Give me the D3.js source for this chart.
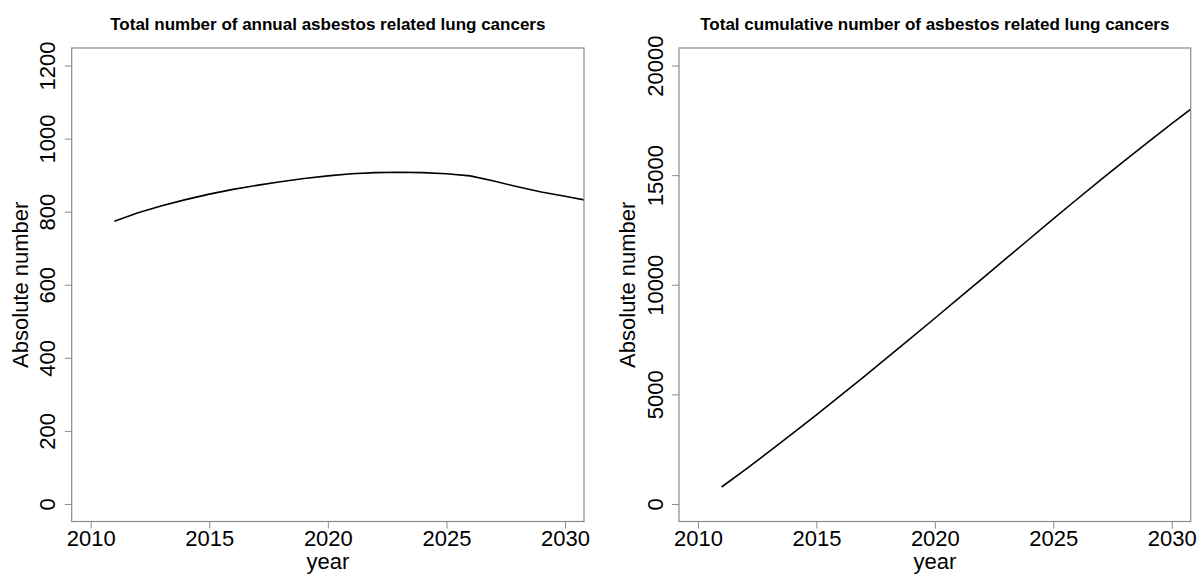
<!DOCTYPE html>
<html>
<head>
<meta charset="utf-8">
<script src="https://cdn.jsdelivr.net/npm/d3@7"></script>
<style>
  html, body { margin: 0; padding: 0; background: #fff; }
  svg { display: block; }
  text { font-family: "Liberation Sans", Arial, Helvetica, sans-serif; fill: #000; }
</style>
</head>
<body>
<svg id="chart" width="1198" height="574"></svg>
<script>
// Projection years and values
const years = [2011, 2012, 2013, 2014, 2015, 2016, 2017, 2018, 2019, 2020,
               2021, 2022, 2023, 2024, 2025, 2026, 2027, 2028, 2029, 2030, 2031];

// Annual asbestos related lung cancers
const annualCases = [774, 797, 816, 833, 848, 861, 872, 882, 891, 898,
                     904, 907, 908, 907, 904, 898, 884, 868, 854, 842, 830];

// Cumulative asbestos related lung cancers
const cumulativeCases = [774, 1571, 2387, 3220, 4068, 4929, 5801, 6683, 7574, 8472,
                         9376, 10283, 11191, 12098, 13002, 13900, 14784, 15652, 16506, 17348, 18178];

const xTicks = [2010, 2015, 2020, 2025, 2030];
const annualTicks = [0, 200, 400, 600, 800, 1000, 1200];
const cumulativeTicks = [0, 5000, 10000, 15000, 20000];

const titles = [
  "Total number of annual asbestos related lung cancers",
  "Total cumulative number of asbestos related lung cancers"
];

const svg = d3.select("#chart");
const boxColor = "#8a8a8a";

const panels = [
  { left: 71.7, right: 584, values: annualCases, yTicks: annualTicks, yDomain: [-48, 1248], title: titles[0] },
  { left: 679, right: 1190.7, values: cumulativeCases, yTicks: cumulativeTicks, yDomain: [-800, 20800], title: titles[1] }
];
const plotTop = 48, plotBottom = 521.5;

panels.forEach((p, i) => {
  const x = d3.scaleLinear().domain([2009.2, 2030.8]).range([p.left, p.right]);
  const y = d3.scaleLinear().domain(p.yDomain).range([plotBottom, plotTop]);

  const g = svg.append("g");

  // clip the series to the plotting region
  const clipId = "clip" + i;
  g.append("clipPath").attr("id", clipId)
    .append("rect")
    .attr("x", p.left).attr("y", plotTop)
    .attr("width", p.right - p.left).attr("height", plotBottom - plotTop);

  // x axis
  const xAxis = g.append("g")
    .attr("transform", `translate(0,${plotBottom})`)
    .call(d3.axisBottom(x).tickValues(xTicks).tickFormat(d3.format("d")).tickSize(7));
  xAxis.select(".domain").remove();
  xAxis.selectAll(".tick line").attr("stroke", boxColor);
  xAxis.selectAll(".tick text")
    .attr("y", 24.5).attr("dy", 0)
    .style("font-size", "22px")
    .style("font-family", "'Liberation Sans', Arial, sans-serif")
    .attr("fill", "#000");

  // y axis with labels running parallel to the axis
  const yAxis = g.append("g")
    .attr("transform", `translate(${p.left},0)`)
    .call(d3.axisLeft(y).tickValues(p.yTicks).tickFormat(d3.format("d")).tickSize(7));
  yAxis.select(".domain").remove();
  yAxis.selectAll(".tick line").attr("stroke", boxColor);
  yAxis.selectAll(".tick text")
    .attr("transform", "rotate(-90)")
    .attr("x", 0).attr("y", -16.5).attr("dy", 0)
    .attr("text-anchor", "middle")
    .style("font-size", "22px")
    .style("font-family", "'Liberation Sans', Arial, sans-serif")
    .attr("fill", "#000");

  // series line
  const line = d3.line()
    .x((d, k) => x(years[k]))
    .y(d => y(d));
  g.append("path")
    .datum(p.values)
    .attr("clip-path", `url(#${clipId})`)
    .attr("fill", "none")
    .attr("stroke", "#000")
    .attr("stroke-width", 1.6)
    .attr("stroke-linejoin", "round")
    .attr("d", line);

  // plot frame
  g.append("rect")
    .attr("x", p.left).attr("y", plotTop)
    .attr("width", p.right - p.left).attr("height", plotBottom - plotTop)
    .attr("fill", "none")
    .attr("stroke", boxColor)
    .attr("stroke-width", 1.2);

  // titles
  const cx = (p.left + p.right) / 2;
  g.append("text")
    .attr("x", cx).attr("y", 29.8)
    .attr("text-anchor", "middle")
    .style("font-size", "17px")
    .style("font-weight", "bold")
    .text(p.title);

  g.append("text")
    .attr("x", cx).attr("y", 568.5)
    .attr("text-anchor", "middle")
    .style("font-size", "22px")
    .text("year");

  g.append("text")
    .attr("transform", `translate(${p.left - 43.8},${(plotTop + plotBottom) / 2}) rotate(-90)`)
    .attr("text-anchor", "middle")
    .style("font-size", "22px")
    .text("Absolute number");
});
</script>
</body>
</html>
